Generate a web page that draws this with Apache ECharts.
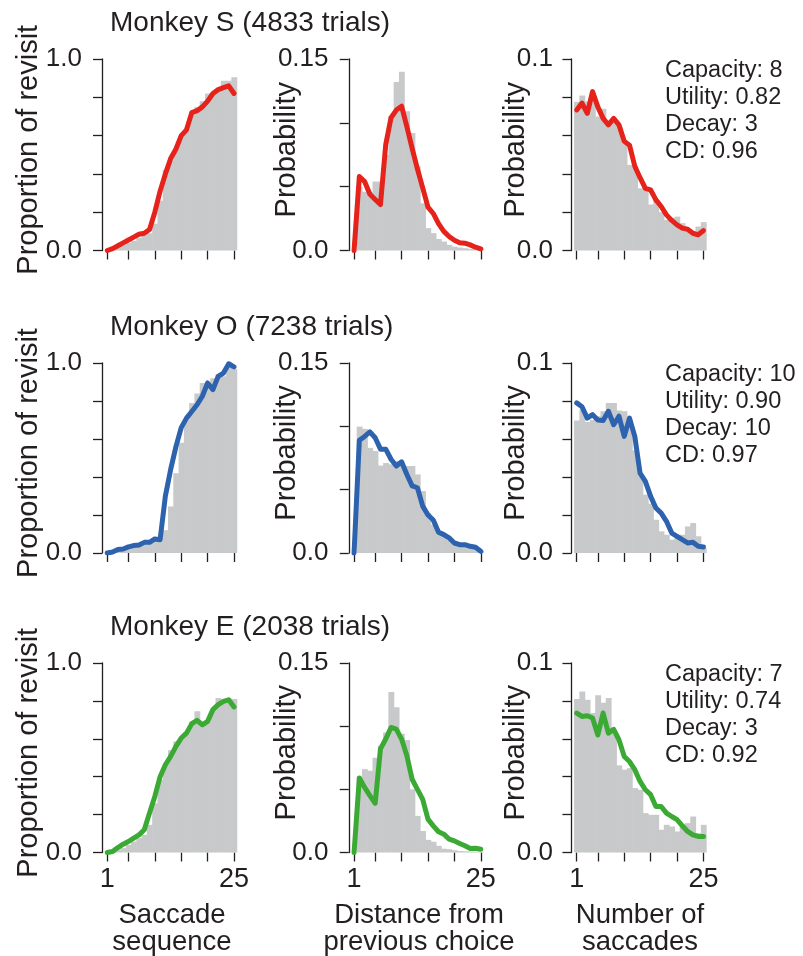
<!DOCTYPE html>
<html>
<head>
<meta charset="utf-8">
<script src="https://cdn.jsdelivr.net/npm/echarts@6/dist/echarts.min.js"></script>
<style>
html,body{margin:0;padding:0;background:#fff;}
#chart{width:803px;height:956px;}
</style>
</head>
<body>
<div id="chart"></div>
<script>
// ---------- data ----------
const xValues = [1,2,3,4,5,6,7,8,9,10,11,12,13,14,15,16,17,18,19,20,21,22,23,24,25];
const xTickValues = [1,5,10,15,20,25];
const xLabelValues = [1,25];

const monkeyNames = ['Monkey S (4833 trials)', 'Monkey O (7238 trials)', 'Monkey E (2038 trials)'];
const paramTexts = [
  ['Capacity: 8', 'Utility: 0.82', 'Decay: 3', 'CD: 0.96'],
  ['Capacity: 10', 'Utility: 0.90', 'Decay: 10', 'CD: 0.97'],
  ['Capacity: 7', 'Utility: 0.74', 'Decay: 3', 'CD: 0.92']
];
const yNames = ['Proportion of revisit', 'Probability', 'Probability'];
const xNames = [['Saccade', 'sequence'], ['Distance from', 'previous choice'], ['Number of', 'saccades']];
const yMaxes = [1.0, 0.15, 0.1];
const yIntervals = [0.2, 0.05, 0.02];
const yLabelTexts = [['0.0', '1.0'], ['0.0', '0.15'], ['0.0', '0.1']];

// Monkey S
const sRevLine = [0, 0.01, 0.025, 0.04, 0.055, 0.07, 0.085, 0.09, 0.11, 0.2, 0.31, 0.4, 0.48, 0.53, 0.6, 0.63, 0.72, 0.73, 0.75, 0.78, 0.82, 0.84, 0.85, 0.86, 0.82];
const sRevBars = [0, 0.005, 0.015, 0.03, 0.04, 0.05, 0.065, 0.08, 0.09, 0.14, 0.26, 0.42, 0.47, 0.53, 0.6, 0.63, 0.725, 0.75, 0.78, 0.82, 0.82, 0.84, 0.887, 0.887, 0.905];
const sDistLine = [0, 0.058, 0.054, 0.044, 0.040, 0.036, 0.083, 0.104, 0.110, 0.113, 0.097, 0.080, 0.064, 0.049, 0.034, 0.029, 0.021, 0.015, 0.011, 0.008, 0.006, 0.0057, 0.0044, 0.0026, 0.0013];
const sDistBars = [0, 0.05, 0.046, 0.046, 0.054, 0.054, 0.075, 0.105, 0.132, 0.140, 0.109, 0.092, 0.066, 0.037, 0.0175, 0.0136, 0.009, 0.007, 0.0044, 0.003, 0.0023, 0.0018, 0.0013, 0.001, 0.0008];
const sSacLine = [0.0734, 0.077, 0.0716, 0.083, 0.075, 0.069, 0.0656, 0.069, 0.0656, 0.057, 0.055, 0.044, 0.038, 0.0325, 0.0316, 0.0264, 0.023, 0.0186, 0.0157, 0.0134, 0.0117, 0.0111, 0.009, 0.0082, 0.0104];
const sSacBars = [0.0777, 0.081, 0.078, 0.079, 0.070, 0.074, 0.066, 0.067, 0.065, 0.056, 0.0447, 0.044, 0.0325, 0.0325, 0.024, 0.0264, 0.020, 0.016, 0.017, 0.0177, 0.0143, 0.0108, 0.010, 0.0125, 0.0148];

// Monkey O
const oRevLine = [0, 0.005, 0.018, 0.021, 0.032, 0.039, 0.042, 0.056, 0.056, 0.074, 0.07, 0.30, 0.44, 0.56, 0.66, 0.71, 0.745, 0.78, 0.825, 0.895, 0.86, 0.93, 0.947, 0.996, 0.98];
const oRevBars = [0.003, 0.01, 0.02, 0.03, 0.04, 0.05, 0.045, 0.05, 0.055, 0.065, 0.08, 0.12, 0.245, 0.42, 0.58, 0.70, 0.79, 0.84, 0.895, 0.877, 0.92, 0.94, 0.93, 0.98, 0.97];
const oDistLine = [0, 0.089, 0.092, 0.0956, 0.091, 0.082, 0.082, 0.074, 0.0687, 0.072, 0.062, 0.053, 0.0515, 0.037, 0.030, 0.026, 0.0164, 0.0145, 0.0119, 0.0079, 0.0066, 0.0066, 0.0053, 0.0045, 0.0013];
const oDistBars = [0, 0.0998, 0.098, 0.083, 0.0805, 0.069, 0.071, 0.070, 0.0726, 0.071, 0.0687, 0.0687, 0.062, 0.0489, 0.0317, 0.0224, 0.0164, 0.0132, 0.01, 0.008, 0.007, 0.0053, 0.004, 0.003, 0.0018];
const oSacLine = [0.079, 0.077, 0.071, 0.0728, 0.070, 0.0697, 0.0746, 0.0675, 0.072, 0.0614, 0.071, 0.0614, 0.042, 0.0377, 0.0298, 0.0237, 0.021, 0.0167, 0.0105, 0.0088, 0.007, 0.0053, 0.0056, 0.0035, 0.0032];
const oSacBars = [0.0698, 0.0754, 0.069, 0.070, 0.072, 0.0746, 0.079, 0.079, 0.075, 0.0746, 0.070, 0.054, 0.041, 0.0307, 0.026, 0.0175, 0.0114, 0.0096, 0.007, 0.0088, 0.0096, 0.014, 0.0158, 0.0088, 0.0026];

// Monkey E
const eRevLine = [0, 0.005, 0.026, 0.044, 0.058, 0.076, 0.093, 0.12, 0.208, 0.296, 0.40, 0.463, 0.507, 0.56, 0.604, 0.63, 0.68, 0.697, 0.674, 0.692, 0.754, 0.78, 0.797, 0.806, 0.768];
const eRevBars = [0, 0.005, 0.014, 0.023, 0.04, 0.058, 0.076, 0.093, 0.146, 0.26, 0.384, 0.463, 0.54, 0.586, 0.604, 0.63, 0.69, 0.745, 0.683, 0.69, 0.754, 0.815, 0.806, 0.81, 0.81];
const eDistLine = [0, 0.059, 0.0515, 0.045, 0.039, 0.082, 0.0898, 0.099, 0.0977, 0.0898, 0.0766, 0.058, 0.050, 0.042, 0.0264, 0.0211, 0.0164, 0.0145, 0.0106, 0.0092, 0.0071, 0.0053, 0.0032, 0.0034, 0.0026];
const eDistBars = [0, 0.06, 0.066, 0.0647, 0.075, 0.0845, 0.095, 0.127, 0.115, 0.094, 0.089, 0.050, 0.029, 0.017, 0.01, 0.0085, 0.0053, 0.003, 0.0026, 0.0018, 0.0012, 0.001, 0.0008, 0.0006, 0.0005];
const eSacLine = [0.0736, 0.0718, 0.0722, 0.071, 0.062, 0.0736, 0.063, 0.065, 0.0595, 0.0507, 0.048, 0.0437, 0.0375, 0.0331, 0.0305, 0.0243, 0.0243, 0.0208, 0.019, 0.0173, 0.0141, 0.0111, 0.0093, 0.0085, 0.0085];
const eSacBars = [0.081, 0.085, 0.0806, 0.0736, 0.083, 0.079, 0.0815, 0.064, 0.046, 0.0437, 0.0445, 0.034, 0.0331, 0.0208, 0.0199, 0.0199, 0.012, 0.0146, 0.0137, 0.0111, 0.0146, 0.0155, 0.019, 0.0102, 0.0146];

const lineSets = [[sRevLine, sDistLine, sSacLine], [oRevLine, oDistLine, oSacLine], [eRevLine, eDistLine, eSacLine]];
const barSets = [[sRevBars, sDistBars, sSacBars], [oRevBars, oDistBars, oSacBars], [eRevBars, eDistBars, eSacBars]];
const rowColors = ['#e5231b', '#2d62ae', '#3aaa35'];

// ---------- layout ----------
const FONT = '"Liberation Sans", Arial, Helvetica, sans-serif';
const INK = '#231f20';
const GRAY = '#c8c9ca';
const colLeft = [97, 343.5, 568];
const colMin = [-0.95, -1.0, -0.65];
const xMax = 25.6;
const unitPx = 5.28;
const rowTop = [59, 363, 663];
const rowHeight = [191.5, 190, 189.5];

const grids = [], xAxes = [], yAxes = [], series = [], graphics = [];

function renderBar(params, api) {
  const x = api.value(0), y = api.value(1);
  const a = api.coord([x - 0.5, y]);
  const b = api.coord([x + 0.5, 0]);
  return {
    type: 'rect',
    shape: { x: a[0], y: a[1], width: b[0] - a[0] + 0.6, height: b[1] - a[1] },
    style: { fill: GRAY }
  };
}

for (let r = 0; r < 3; r++) {
  for (let c = 0; c < 3; c++) {
    const k = r * 3 + c;
    grids.push({
      left: colLeft[c], top: rowTop[r],
      width: (xMax - colMin[c]) * unitPx, height: rowHeight[r],
      containLabel: false
    });
    xAxes.push({
      type: 'value', gridIndex: k, min: colMin[c], max: xMax,
      axisLine: { show: false },
      splitLine: { show: false },
      axisTick: { show: true, customValues: xTickValues, length: 9, lineStyle: { color: INK, width: 1.3 } },
      axisLabel: {
        show: r === 2, customValues: xLabelValues, margin: 14,
        color: INK, fontSize: 27, fontFamily: FONT
      }
    });
    const labs = yLabelTexts[c];
    yAxes.push({
      type: 'value', gridIndex: k, min: 0, max: yMaxes[c], interval: yIntervals[c],
      axisLine: { show: true, lineStyle: { color: INK, width: 1.3 } },
      splitLine: { show: false },
      axisTick: { show: true, length: 9, lineStyle: { color: INK, width: 1.3 } },
      axisLabel: {
        customValues: [0, yMaxes[c]], margin: 15,
        color: INK, fontSize: 26, fontFamily: FONT,
        formatter: function (v) { return v === 0 ? labs[0] : labs[1]; }
      }
    });
    const bars = barSets[r][c];
    const lines = lineSets[r][c];
    series.push({
      type: 'custom', xAxisIndex: k, yAxisIndex: k, z: 1,
      renderItem: renderBar, encode: { x: 0, y: 1 },
      data: xValues.map((x, i) => [x, bars[i]]), silent: true
    });
    series.push({
      type: 'line', xAxisIndex: k, yAxisIndex: k, z: 3,
      symbol: 'none', smooth: false,
      lineStyle: { color: rowColors[r], width: 5, cap: 'round', join: 'round' },
      data: xValues.map((x, i) => [x, lines[i]]), silent: true
    });
    // y axis names
    const yNameX = [29, 287, 516][c];
    graphics.push({
      type: 'text', x: yNameX, y: rowTop[r] + rowHeight[r] / 2 - 5, rotation: Math.PI / 2,
      style: { text: yNames[c], fill: INK, font: '29px ' + FONT, align: 'center', verticalAlign: 'middle' }
    });
  }
  // titles
  graphics.push({
    type: 'text', x: 110, y: rowTop[r] - 36,
    style: { text: monkeyNames[r], fill: INK, font: '28px ' + FONT, align: 'left', verticalAlign: 'middle' }
  });
  // parameter annotations
  paramTexts[r].forEach((t, j) => {
    graphics.push({
      type: 'text', x: 665, y: rowTop[r] + 12 + j * 27,
      style: { text: t, fill: INK, font: '23.5px ' + FONT, align: 'left', verticalAlign: 'middle' }
    });
  });
}
// x axis names
const xNameCenters = [172, 419, 640];
xNames.forEach((pair, c) => {
  pair.forEach((t, j) => {
    graphics.push({
      type: 'text', x: xNameCenters[c], y: 915 + j * 27,
      style: { text: t, fill: INK, font: '27.5px ' + FONT, align: 'center', verticalAlign: 'middle' }
    });
  });
});

const chart = echarts.init(document.getElementById('chart'), null, { renderer: 'canvas' });
chart.setOption({
  animation: false,
  backgroundColor: '#ffffff',
  grid: grids, xAxis: xAxes, yAxis: yAxes, series: series,
  graphic: graphics
});
</script>
</body>
</html>
